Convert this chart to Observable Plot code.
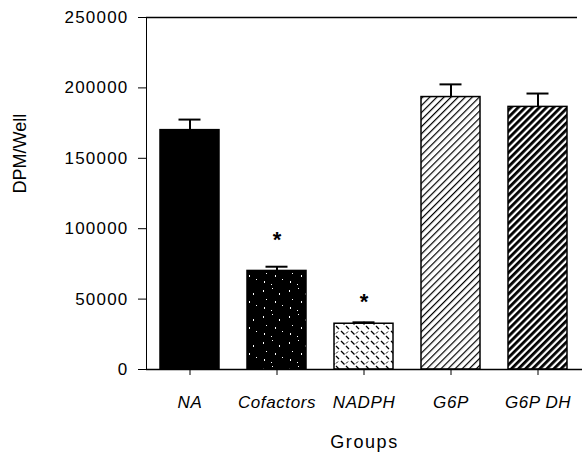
<!DOCTYPE html>
<html><head><meta charset="utf-8">
<script src="https://cdn.jsdelivr.net/npm/d3@7"></script>
<script src="https://cdn.jsdelivr.net/npm/@observablehq/plot@0.6"></script>
<style>
html,body{margin:0;padding:0;background:#fff;}
#chart [aria-label^="y-axis"] text{letter-spacing:1.2px;}
#chart [aria-label^="x-axis"] text{letter-spacing:0.6px;font-style:italic;}
#chart .xtitle text{letter-spacing:1.6px;}
</style></head><body><div id="chart"></div>
<script>
const groups = ["NA", "Cofactors", "NADPH", "G6P", "G6P DH"];
const means = [170000, 70000, 32500, 193500, 186500];
const sems = [7500, 3000, 1000, 9000, 9500];
const starGroups = ["Cofactors", "NADPH"];
const starY = [96000, 52000];
const starLabels = ["*", "*"];
const yTicks = [0, 50000, 100000, 150000, 200000, 250000];
const yLabel = "DPM/Well";
const xLabel = "Groups";

const fillFor = {"NA": "#000", "Cofactors": "url(#pCof)", "NADPH": "url(#pNad)", "G6P": "url(#pG6p)", "G6P DH": "url(#pG6pdh)"};

const data = groups.map((g, i) => ({group: g, mean: means[i], top: means[i] + sems[i]}));
const stars = starGroups.map((g, i) => ({group: g, y: starY[i], label: starLabels[i]}));

const svg = Plot.plot({
  width: 582, height: 462,
  marginLeft: 146, marginRight: 0, marginTop: 17, marginBottom: 93,
  style: {fontFamily: "'Liberation Sans', Arial, Helvetica, sans-serif", fontSize: "17px", color: "#000", background: "#fff"},
  x: {domain: groups, paddingInner: 0.32, paddingOuter: 0.16, label: null, tickSize: 6, tickPadding: 20, line: true},
  y: {domain: [0, 250000], ticks: yTicks, tickFormat: d3.format("d"), tickSize: 8, tickPadding: 10, label: null, line: true},
  color: {type: "identity"},
  marks: [
    Plot.ruleX(data, {x: "group", y1: "mean", y2: "top", strokeWidth: 2}),
    Plot.tickY(data, {x: "group", y: "top", inset: 18.5, strokeWidth: 2}),
    Plot.barY(data, {x: "group", y: "mean", fill: d => fillFor[d.group], stroke: "#000", strokeWidth: 1.5}),
    Plot.text(stars, {x: "group", y: "y", text: "label", fontSize: 22, fontWeight: "bold", dy: 6}),
    Plot.ruleY([0], {strokeWidth: 1.5}),
    Plot.ruleY([yTicks[yTicks.length - 1]], {insetRight: 5, strokeWidth: 1.5}),
    Plot.text([yLabel], {text: d => d, frameAnchor: "left", dx: -126, rotate: -90, fontSize: 18}),
    Plot.text([xLabel], {text: d => d, frameAnchor: "bottom", dy: 78, fontSize: 18, className: "xtitle"})
  ]
});

const defs = d3.select(svg).insert("defs", ":first-child");
// Cofactors: black with sparse white speckles
const pc = defs.append("pattern").attr("id", "pCof").attr("patternUnits", "userSpaceOnUse").attr("width", 26).attr("height", 26);
pc.append("rect").attr("width", 26).attr("height", 26).attr("fill", "#000");
const specks = [[3,4,1,2],[12,2,1,1],[19,7,1,2],[6,13,1,1],[15,15,1,2],[22,19,1,1],[4,21,1,2],[11,24,1,1]];
specks.forEach(s => pc.append("rect").attr("x", s[0]).attr("y", s[1]).attr("width", s[2]).attr("height", s[3]).attr("fill", "#fff"));
// NADPH: white with short diagonal dashes
const pn = defs.append("pattern").attr("id", "pNad").attr("patternUnits", "userSpaceOnUse").attr("width", 10).attr("height", 10);
pn.append("rect").attr("width", 10).attr("height", 10).attr("fill", "#fff");
pn.append("path").attr("d", "M1,1L4.5,4.5M6,6L9,9").attr("stroke", "#000").attr("stroke-width", 1.3);
pn.append("path").attr("d", "M6,3.5L8,1.5").attr("stroke", "#000").attr("stroke-width", 1);
// G6P: thin / hatch
const pg = defs.append("pattern").attr("id", "pG6p").attr("patternUnits", "userSpaceOnUse").attr("width", 5).attr("height", 5).attr("patternTransform", "rotate(45)");
pg.append("rect").attr("width", 5).attr("height", 5).attr("fill", "#fff");
pg.append("rect").attr("x", 2).attr("width", 1.2).attr("height", 5).attr("fill", "#000");
// G6P DH: thick / hatch
const pd = defs.append("pattern").attr("id", "pG6pdh").attr("patternUnits", "userSpaceOnUse").attr("width", 5).attr("height", 5).attr("patternTransform", "rotate(45)");
pd.append("rect").attr("width", 5).attr("height", 5).attr("fill", "#fff");
pd.append("rect").attr("x", 1).attr("width", 2.8).attr("height", 5).attr("fill", "#000");

document.getElementById("chart").appendChild(svg);
</script></body></html>
